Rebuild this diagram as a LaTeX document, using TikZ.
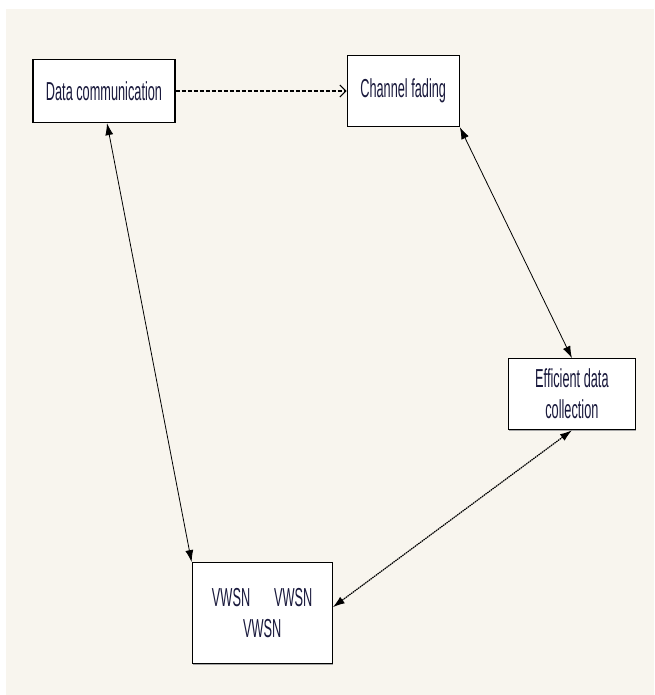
\documentclass[tikz,border=0pt]{standalone}
\usepackage{fontspec}
\setmainfont{Liberation Sans}[FakeStretch=0.49]
\usepackage{tikz}
\usetikzlibrary{arrows.meta,positioning,shadows}
\definecolor{paper}{RGB}{248,245,238}
\definecolor{inkblue}{RGB}{25,25,60}
\tikzset{
flowbox/.style={draw, fill=white, line width=1.2pt, inner sep=0pt, align=center, text=inkblue, font=\fontsize{26}{31}\selectfont, drop shadow={shadow xshift=1pt, shadow yshift=-1pt, fill=gray!70, opacity=1}},
linkarrow/.style={{Latex[length=12pt,width=8pt]}-{Latex[length=12pt,width=8pt]}, line width=0.8pt},
dasharrow/.style={-{Straight Barb[length=6pt,width=12pt]}, dash pattern=on 4pt off 2pt, line width=1.1pt}
}
\begin{document}
\begin{tikzpicture}[x=1pt, y=-1pt]
\fill[white] (0,0) rectangle (654,695);
\fill[paper] (6,9) rectangle (654,695);
\useasboundingbox (0,0) rectangle (654,695);

\node[flowbox, minimum width=142pt, minimum height=63pt] (datacomm) at (104,91) {Data communication};
\node[flowbox, minimum width=112pt, minimum height=71pt, right=171pt of datacomm] (fading) {Channel fading};
\node[flowbox, minimum width=127pt, minimum height=71pt, below right=231pt and 48pt of fading] (collect) {Efficient data\\collection};
\node[flowbox, minimum width=140pt, minimum height=101pt, below right=439pt and 16pt of datacomm] (vwsn) {VWSN\hspace{24pt}VWSN\\VWSN};

\draw[dasharrow] (datacomm) -- (fading);
\draw[linkarrow] ([xshift=3pt]datacomm.south) -- (vwsn.north west);
\draw[linkarrow] (fading.south east) -- (collect.north);
\draw[linkarrow, dash pattern=on 1.5pt off 0.7pt, line width=1.2pt] (collect.south) -- ([yshift=6pt]vwsn.east);
\end{tikzpicture}
\end{document}
